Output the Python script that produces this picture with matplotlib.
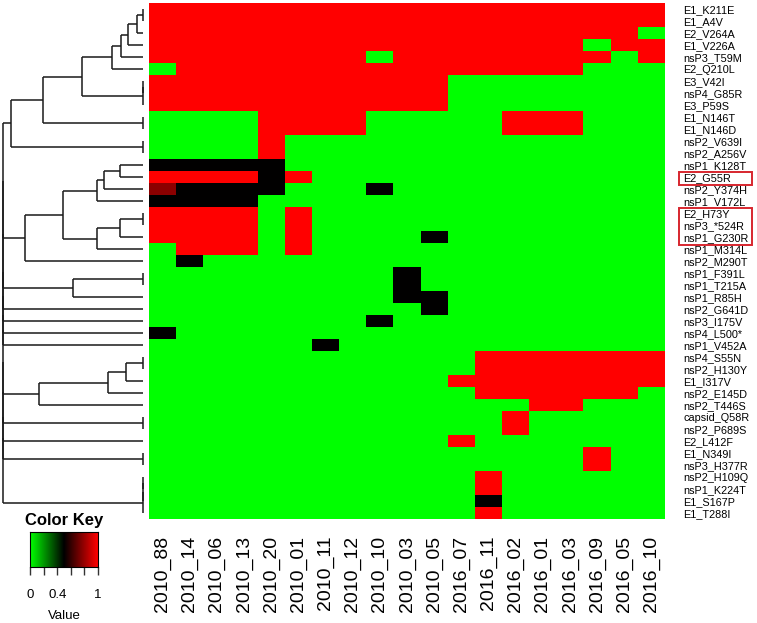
import numpy as np
import matplotlib
matplotlib.use("Agg")
import matplotlib.pyplot as plt
from matplotlib.colors import LinearSegmentedColormap
from matplotlib.patches import Rectangle
from matplotlib.transforms import blended_transform_factory

plt.rcParams['font.family'] = ['Liberation Sans', 'DejaVu Sans']

# ---------------- data ----------------
samples = ["2010_88", "2010_14", "2010_06", "2010_13", "2010_20", "2010_01", "2010_11",
           "2010_12", "2010_10", "2010_03", "2010_05", "2016_07", "2016_11", "2016_02",
           "2016_01", "2016_03", "2016_09", "2016_05", "2016_10"]

mutations = ["E1_K211E", "E1_A4V", "E2_V264A", "E1_V226A", "nsP3_T59M", "E2_Q210L",
             "E3_V42I", "nsP4_G85R", "E3_P59S", "E1_N146T", "E1_N146D", "nsP2_V639I",
             "nsP2_A256V", "nsP1_K128T", "E2_G55R", "nsP2_Y374H", "nsP1_V172L",
             "E2_H73Y", "nsP3_*524R", "nsP1_G230R", "nsP1_M314L", "nsP2_M290T",
             "nsP1_F391L", "nsP1_T215A", "nsP1_R85H", "nsP2_G641D", "nsP3_I175V",
             "nsP4_L500*", "nsP1_V452A", "nsP4_S55N", "nsP2_H130Y", "E1_I317V",
             "nsP2_E145D", "nsP2_T446S", "capsid_Q58R", "nsP2_P689S", "E2_L412F",
             "E1_N349I", "nsP3_H377R", "nsP2_H109Q", "nsP1_K224T", "E1_S167P", "E1_T288I"]

# cell codes: G = 0 (absent), B = 0.5, D = 0.77, R = 1 (fixed)
code_values = {"G": 0.0, "B": 0.5, "D": 0.77, "R": 1.0}
cell_codes = [
    "RRRRRRRRRRRRRRRRRRR",
    "RRRRRRRRRRRRRRRRRRR",
    "RRRRRRRRRRRRRRRRRRG",
    "RRRRRRRRRRRRRRRRGRR",
    "RRRRRRRRGRRRRRRRRGR",
    "GRRRRRRRRRRRRRRRGGG",
    "RRRRRRRRRRRGGGGGGGG",
    "RRRRRRRRRRRGGGGGGGG",
    "RRRRRRRRRRRGGGGGGGG",
    "GGGGRRRRGGGGGRRRGGG",
    "GGGGRRRRGGGGGRRRGGG",
    "GGGGRGGGGGGGGGGGGGG",
    "GGGGRGGGGGGGGGGGGGG",
    "BBBBBGGGGGGGGGGGGGG",
    "RRRRBRGGGGGGGGGGGGG",
    "DBBBBGGGBGGGGGGGGGG",
    "BBBBGGGGGGGGGGGGGGG",
    "RRRRGRGGGGGGGGGGGGG",
    "RRRRGRGGGGGGGGGGGGG",
    "RRRRGRGGGGBGGGGGGGG",
    "GRRRGRGGGGGGGGGGGGG",
    "GBGGGGGGGGGGGGGGGGG",
    "GGGGGGGGGBGGGGGGGGG",
    "GGGGGGGGGBGGGGGGGGG",
    "GGGGGGGGGBBGGGGGGGG",
    "GGGGGGGGGGBGGGGGGGG",
    "GGGGGGGGBGGGGGGGGGG",
    "BGGGGGGGGGGGGGGGGGG",
    "GGGGGGBGGGGGGGGGGGG",
    "GGGGGGGGGGGGRRRRRRR",
    "GGGGGGGGGGGGRRRRRRR",
    "GGGGGGGGGGGRRRRRRRR",
    "GGGGGGGGGGGGRRRRRRG",
    "GGGGGGGGGGGGGGRRGGG",
    "GGGGGGGGGGGGGRGGGGG",
    "GGGGGGGGGGGGGRGGGGG",
    "GGGGGGGGGGGRGGGGGGG",
    "GGGGGGGGGGGGGGGGRGG",
    "GGGGGGGGGGGGGGGGRGG",
    "GGGGGGGGGGGGRGGGGGG",
    "GGGGGGGGGGGGRGGGGGG",
    "GGGGGGGGGGGGBGGGGGG",
    "GGGGGGGGGGGGRGGGGGG",
]

# row dendrogram merges: (left, right, height); int = row index, "mK" = K-th merge
merges = [
    (0, 1, 0.0),            # m0
    ("m0", 2, 0.047),       # m1
    ("m1", 3, 0.107),       # m2
    ("m2", 4, 0.161),       # m3
    ("m3", 5, 0.223),       # m4
    (6, 7, 0.0),            # m5
    ("m5", 8, 0.0),         # m6
    ("m4", "m6", 0.438),    # m7
    (9, 10, 0.0),           # m8
    ("m7", "m8", 0.711),    # m9
    (11, 12, 0.0),          # m10
    ("m9", "m10", 0.941),   # m11
    (13, 14, 0.166),        # m12
    ("m12", 15, 0.280),     # m13
    ("m13", 16, 0.332),     # m14
    (17, 18, 0.0),          # m15
    ("m15", 19, 0.166),     # m16
    ("m16", 20, 0.332),     # m17
    ("m14", "m17", 0.569),  # m18
    ("m18", 21, 0.841),     # m19
    (22, 23, 0.0),          # m20
    ("m20", 24, 0.498),     # m21
    (29, 30, 0.0),          # m22
    ("m22", 31, 0.123),     # m23
    ("m23", 32, 0.249),     # m24
    ("m24", 33, 0.742),     # m25
    (34, 35, 0.0),          # m26
    (37, 38, 0.0),          # m27
    (39, 40, 0.0),          # m28
    ("m28", 41, 0.0),       # m29
    ("m29", 42, 0.0),       # m30
    ("m11", "m19", 1.0),    # m31
    ("m31", "m21", 1.0),    # m32
    ("m32", 25, 1.0),       # m33
    ("m33", 26, 1.0),       # m34
    ("m34", 27, 1.0),       # m35
    ("m35", 28, 1.0),       # m36
    ("m36", "m25", 1.0),    # m37
    ("m37", "m26", 1.0),    # m38
    ("m38", 36, 1.0),       # m39
    ("m39", "m27", 1.0),    # m40
    ("m40", "m30", 1.0),    # m41
]

highlight_groups = [["E2_G55R"], ["E2_H73Y", "nsP3_*524R", "nsP1_G230R"]]

key_ticks = [0.0, 0.2, 0.4, 0.6, 0.8, 1.0]
key_ticklabels = ["0", "", "0.4", "", "", "1"]

# ---------------- figure ----------------
W, H = 757, 623
fig = plt.figure(figsize=(W / 100, H / 100), dpi=100)


def px_axes(x0, y0, x1, y1):
    return fig.add_axes([x0 / W, 1 - y1 / H, (x1 - x0) / W, (y1 - y0) / H])


cmap = LinearSegmentedColormap.from_list("greenred", ["#00ff00", "#000000", "#ff0000"])
M = np.array([[code_values[c] for c in row] for row in cell_codes])
nrow, ncol = M.shape

# heatmap
ax = px_axes(149, 3, 665, 519)
ax.imshow(M, cmap=cmap, vmin=0, vmax=1, aspect="auto", interpolation="nearest",
          extent=(-0.5, ncol - 0.5, nrow - 0.5, -0.5))
ax.set_xlim(-0.5, ncol - 0.5)
ax.set_ylim(nrow - 0.5, -0.5)
for s in ax.spines.values():
    s.set_visible(False)
ax.set_xticks(range(ncol))
ax.set_xticklabels(samples, rotation=90, fontsize=14, va="top", ha="center")
ax.set_yticks(range(nrow))
ax.set_yticklabels(mutations, fontsize=7.8)
ax.yaxis.tick_right()
ax.tick_params(axis="x", length=0, pad=12)
ax.tick_params(axis="y", length=0, pad=13)

# highlight boxes
tr = blended_transform_factory(fig.transFigure, ax.transData)
for grp in highlight_groups:
    idx = [mutations.index(g) for g in grp]
    r0, r1 = min(idx), max(idx)
    y0 = r0 - 0.4
    y1 = r1 + 0.7
    fig.add_artist(Rectangle((679 / W, y0), (752 - 679) / W, y1 - y0, transform=tr,
                             fill=False, edgecolor="#d7262e", lw=1.4))

# dendrogram
dax = px_axes(2.7, 3, 143.3, 519)
dax.set_xlim(1.0, 0.0)
dax.set_ylim(nrow - 0.5, -0.5)
dax.axis("off")
nodes = {}


def node_pos(ref):
    if isinstance(ref, int):
        return float(ref), 0.0
    return nodes[ref]


lc = "#1a1a1a"
for k, (a, b, h) in enumerate(merges):
    ya, ha = node_pos(a)
    yb, hb = node_pos(b)
    dax.plot([h, h], [ya, yb], color=lc, lw=1.1, clip_on=False, solid_capstyle="butt")
    dax.plot([h, ha], [ya, ya], color=lc, lw=1.1, clip_on=False, solid_capstyle="butt")
    dax.plot([h, hb], [yb, yb], color=lc, lw=1.1, clip_on=False, solid_capstyle="butt")
    nodes["m%d" % k] = ((ya + yb) / 2.0, h)

# color key
kax = px_axes(30, 532, 98, 567)
grad = np.linspace(0, 1, 256).reshape(1, -1)
kax.imshow(grad, cmap=cmap, aspect="auto", extent=(0, 1, 0, 1), vmin=0, vmax=1)
kax.set_xlim(0, 1)
kax.set_ylim(0, 1)
kax.set_yticks([])
kax.set_xticks(key_ticks)
kax.set_xticklabels(key_ticklabels, fontsize=9.5)
kax.tick_params(axis="x", length=6, width=1, color="#333333", pad=10)
for s in kax.spines.values():
    s.set_linewidth(0.8)
kax.set_xlabel("Value", fontsize=9.5, labelpad=6)
kax.set_title("Color Key", fontsize=12, fontweight="bold", pad=5)

fig.savefig("out.png", dpi=100)
